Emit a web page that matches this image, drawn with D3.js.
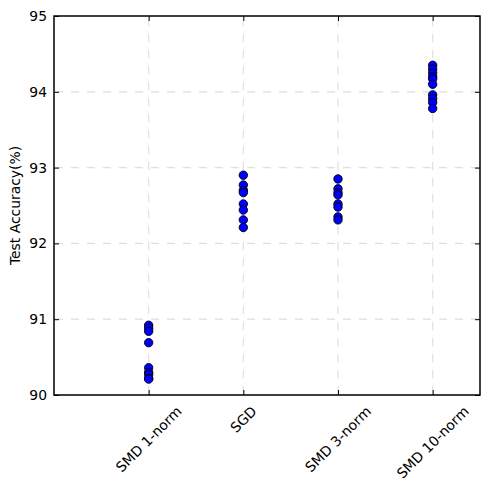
<!DOCTYPE html>
<html>
<head>
<meta charset="utf-8">
<script src="https://cdn.jsdelivr.net/npm/d3@7"></script>
<style>
  html, body { margin: 0; padding: 0; background: #fff; overflow: hidden; }
  svg { display: block; }
  text { font-family: "DejaVu Sans", sans-serif; font-size: 13.9px; fill: #000; }
  .grid line { stroke: #e0e0e0; stroke-dasharray: 8,8; stroke-width: 1.2; }
</style>
</head>
<body>
<div id="chart"></div>
<script>
// method names along the x axis
var methods = ["SMD 1-norm", "SGD", "SMD 3-norm", "SMD 10-norm"];

// test accuracy of each run
var smd1Acc = [90.92, 90.88, 90.84, 90.69, 90.36, 90.30, 90.27, 90.22, 90.21];
var sgdAcc = [92.90, 92.77, 92.70, 92.67, 92.52, 92.44, 92.31, 92.21];
var smd3Acc = [92.85, 92.72, 92.67, 92.64, 92.52, 92.48, 92.35, 92.31];
var smd10Acc = [94.35, 94.30, 94.25, 94.20, 94.17, 94.10, 93.96, 93.91, 93.86, 93.78];

var yTicks = [90, 91, 92, 93, 94, 95];

var runs = [smd1Acc, sgdAcc, smd3Acc, smd10Acc];

var width = 490,
    height = 488,
    margin = {top: 16, right: 10, bottom: 93, left: 54};

var svg = d3.select("#chart").append("svg")
    .attr("width", width)
    .attr("height", height);

var x = d3.scaleLinear()
    .domain([0, 4.5])
    .range([margin.left, width - margin.right]);

var y = d3.scaleLinear()
    .domain([90, 95])
    .range([height - margin.bottom, margin.top]);

var x0 = x(0), x1 = x(4.5), y0 = y(90), y1 = y(95);

// dashed grid
var grid = svg.append("g").attr("class", "grid");
grid.selectAll(".gy")
    .data(yTicks.slice(1, -1))
  .enter().append("line")
    .attr("x1", x0 + 1).attr("x2", x1 - 1)
    .attr("y1", function(d) { return y(d); })
    .attr("y2", function(d) { return y(d); });
grid.selectAll(".gx")
    .data(methods)
  .enter().append("line")
    .attr("x1", function(d, i) { return x(i + 1); })
    .attr("x2", function(d, i) { return x(i + 1); })
    .attr("y1", y0 - 1).attr("y2", y1 + 1);

// points
methods.forEach(function(m, i) {
  svg.append("g").selectAll("circle")
      .data(runs[i])
    .enter().append("circle")
      .attr("cx", x(i + 1))
      .attr("cy", function(d) { return y(d); })
      .attr("r", 4.2)
      .attr("fill", "#0000ff")
      .attr("stroke", "#000")
      .attr("stroke-width", 0.9);
});

// axes, ticks inside like matplotlib classic
var yAxis = svg.append("g")
    .attr("transform", "translate(" + x0 + ",0)")
    .call(d3.axisLeft(y).tickValues(yTicks).tickSize(-5).tickPadding(7).tickFormat(d3.format("d")));
yAxis.select(".domain").remove();
yAxis.selectAll("text").style("font-size", "13.9px").attr("font-family", null);

var yAxisR = svg.append("g")
    .attr("transform", "translate(" + x1 + ",0)")
    .call(d3.axisRight(y).tickValues(yTicks).tickSize(-5).tickFormat(""));
yAxisR.select(".domain").remove();

var xAxis = svg.append("g")
    .attr("transform", "translate(0," + y0 + ")")
    .call(d3.axisBottom(x).tickValues([1, 2, 3, 4]).tickSize(-5).tickFormat(""));
xAxis.select(".domain").remove();

var xAxisT = svg.append("g")
    .attr("transform", "translate(0," + y1 + ")")
    .call(d3.axisTop(x).tickValues([1, 2, 3, 4]).tickSize(-5).tickFormat(""));
xAxisT.select(".domain").remove();

// rotated x labels, rotated box centred under the tick
svg.append("g").selectAll("text")
    .data(methods)
  .enter().append("text")
    .text(function(d) { return d; })
    .attr("text-anchor", "middle")
    .attr("dominant-baseline", "central")
    .each(function(d, i) {
      var w = this.getComputedTextLength();
      var half = (w + 16) / (2 * Math.SQRT2);
      var cx = x(i + 1), cy = 403 + half;
      d3.select(this)
        .attr("x", cx).attr("y", cy)
        .attr("transform", "rotate(-45," + cx + "," + cy + ")");
    });

svg.append("text")
    .attr("transform", "translate(20," + ((y0 + y1) / 2) + ") rotate(-90)")
    .attr("text-anchor", "middle")
    .text("Test Accuracy(%)");

// frame on top
svg.append("path")
    .attr("d", "M" + x0 + "," + y1 + "H" + x1 + "V" + y0 + "H" + x0 + "Z")
    .attr("fill", "none")
    .attr("stroke", "#000")
    .attr("stroke-width", 1.5);
</script>
</body>
</html>
